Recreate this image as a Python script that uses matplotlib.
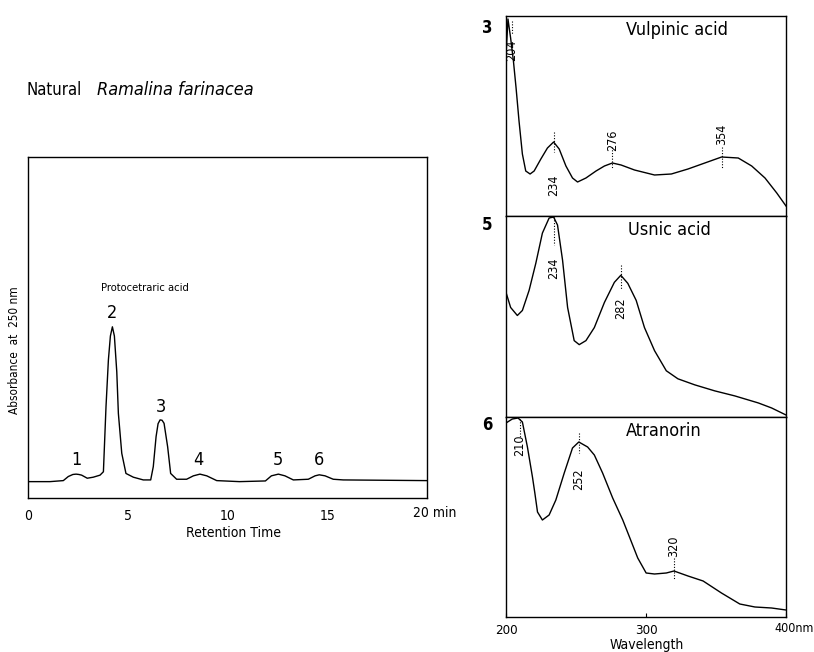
import matplotlib.pyplot as plt
from matplotlib.transforms import blended_transform_factory

plt.rcParams['font.family'] = ['DejaVu Sans']
plt.rcParams['font.stretch'] = 'condensed'

# --- HPLC chromatogram (retention time in min, absorbance in arbitrary units) ---
chrom_t = [0, 1.1, 1.77, 2.02, 2.25, 2.41, 2.55, 2.69, 2.97, 3.27, 3.61, 3.78,
           3.91, 4.03, 4.13, 4.23, 4.33, 4.45, 4.53, 4.7, 4.91, 5.28, 5.78,
           6.15, 6.28, 6.42, 6.52, 6.62, 6.72, 6.82, 7.0, 7.15, 7.45, 7.95,
           8.29, 8.62, 8.96, 9.46, 10.6, 11.9, 12.2, 12.55, 12.88, 13.3,
           14.05, 14.39, 14.6, 14.89, 15.3, 15.8, 20]
chrom_y = [4.8, 4.8, 5.1, 6.3, 6.9, 7.0, 6.9, 6.7, 5.8, 6.1, 6.7, 7.7,
           26.8, 40.5, 47.5, 50.2, 47.5, 37.0, 24.8, 13.1, 7.2, 6.1, 5.3,
           5.3, 9.2, 18.0, 21.8, 22.9, 22.8, 21.9, 15.0, 7.2, 5.5, 5.5,
           6.5, 7.0, 6.5, 5.1, 4.8, 5.0, 6.5, 7.0, 6.5, 5.3,
           5.5, 6.5, 6.8, 6.5, 5.5, 5.3, 5.1]
peak_num = ['1', '2', '3', '4', '5', '6']
peak_t = [2.4, 4.2, 6.67, 8.55, 12.5, 14.6]
peak_lab_y = [11.1, 54.3, 26.7, 11.1, 11.1, 11.1]
chrom_ticks = [0, 5, 10, 15]

# --- UV spectra (wavelength in nm, absorbance in arbitrary units) ---
vulp_wl = [200, 201.4, 203.3, 205.3, 207.2, 209.3, 211.7, 214.1, 217.2, 220.1,
           224.9, 229.6, 234, 238, 242.8, 247.5, 251.1, 257.1, 264.3, 270.3,
           276, 282.2, 291.8, 306.1, 318.1, 330, 342, 354, 365.9, 375.5,
           385, 393.4, 400]
vulp_abs = [160, 197, 178, 155, 128, 95, 62, 45, 42, 45,
            57, 68, 74, 67, 50, 38, 34, 38, 45, 50,
            53, 51, 46, 41, 42, 47, 53, 59, 58, 50,
            38, 23, 10]
vulp_peaks = [204, 234, 276, 354]
vulp_lab_y = [166, 31, 76, 82]
vulp_dot = [(195, 182), (84, 64), (69, 48), (69, 47)]

usnic_wl = [200, 203.3, 208.1, 211.7, 216.5, 221.3, 226, 230.8, 234, 236.8,
            240.4, 244, 248.7, 252.3, 257.1, 263.1, 270.3, 277.4, 282, 287,
            293, 298.9, 306.1, 314.5, 322.8, 334.8, 349.1, 363.4, 380.2,
            389.7, 400]
usnic_abs = [124, 109, 101, 106, 126, 153, 183, 198, 199, 191,
             156, 109, 76, 72, 76, 89, 114, 134, 141, 133,
             116, 89, 66, 46, 38, 32, 26, 21, 14,
             9, 2]
usnic_peaks = [234, 282]
usnic_lab_y = [148, 108]
usnic_dot = [(199, 171), (151, 126)]

atra_wl = [200, 204.5, 208.6, 211.7, 215.3, 218.9, 220.6, 222.5, 226, 230.8,
           235.6, 241.6, 247.5, 252, 258.3, 263.1, 269, 276.2, 283.4, 288.2,
           294.1, 300.1, 306.1, 314.5, 320, 330, 340.8, 353.9, 367, 377.8,
           389.7, 400]
atra_abs = [194, 198, 199, 195, 170, 140, 124, 105, 97, 102,
            117, 144, 169, 175, 170, 162, 144, 119, 97, 80,
            59, 44, 43, 44, 46, 41, 36, 24, 13, 10,
            9, 7]
atra_peaks = [210, 252, 320]
atra_lab_y = [172, 138, 71]
atra_dot = [(198, 180), (184, 164), (59, 37)]

fig = plt.figure(figsize=(8.14, 6.52), dpi=100)
W, H = 814, 652

def box(x0, y0, x1, y1):
    return [x0 / W, 1 - y1 / H, (x1 - x0) / W, (y1 - y0) / H]

# chromatogram
ax = fig.add_axes(box(28, 157, 427, 498))
ax.plot(chrom_t, chrom_y, color='black', lw=1.0)
ax.set_xlim(0, 20)
ax.set_ylim(0, 100)
ax.set_yticks([])
ax.set_xticks(chrom_ticks)
ax.set_xticklabels([str(v) for v in chrom_ticks])
ax.tick_params(axis='x', length=0, pad=8, labelsize=10)
for s in ax.spines.values():
    s.set_linewidth(1.0)
tr = blended_transform_factory(ax.transData, ax.transAxes)
ax.text(19.3, -0.044, '20 min', transform=tr, ha='left', va='center', fontsize=10)
for n, t, y in zip(peak_num, peak_t, peak_lab_y):
    ax.text(t, y, n, ha='center', va='center', fontsize=13)
ax.text(5.86, 61.6, 'Protocetraric acid', ha='center', va='center', fontsize=8)

fig.text(233 / W, 1 - 533 / H, 'Retention Time', ha='center', va='center', fontsize=10)
fig.text(15 / W, 1 - 350 / H, 'Absorbance  at  250 nm', ha='center', va='center',
         rotation=90, fontsize=8.5)
fig.text(27 / W, 1 - 90 / H, 'Natural', ha='left', va='center', fontsize=12)
fig.text(97 / W, 1 - 90 / H, 'Ramalina farinacea', ha='left', va='center',
         fontsize=13, style='italic')

# spectra panels
panels = [
    ('3', 'Vulpinic acid', 322, vulp_wl, vulp_abs, vulp_peaks, vulp_lab_y, vulp_dot, (16, 216), 0.94),
    ('5', 'Usnic acid', 317, usnic_wl, usnic_abs, usnic_peaks, usnic_lab_y, usnic_dot, (216, 417), 0.955),
    ('6', 'Atranorin', 313, atra_wl, atra_abs, atra_peaks, atra_lab_y, atra_dot, (417, 617), 0.96),
]
for i, (num, name, name_x, wl, ab, pk, pk_y, dots, (y0, y1), num_y) in enumerate(panels):
    a = fig.add_axes(box(506, y0, 786, y1))
    a.plot(wl, ab, color='black', lw=1.0)
    a.set_xlim(200, 400)
    a.set_ylim(0, 200)
    a.set_yticks([])
    for s in a.spines.values():
        s.set_linewidth(1.0)
    for w, y, (d0, d1) in zip(pk, pk_y, dots):
        a.plot([w, w], [d0, d1], color='black', lw=0.8, ls=(0, (1, 1.5)))
        a.text(w, y, str(w), rotation=90, ha='center', va='center', fontsize=9)
    a.text(name_x, 186, name, ha='center', va='center', fontsize=13)
    a.text(-0.068, num_y, num, transform=a.transAxes, ha='center', va='center',
           fontsize=12, fontweight='bold')
    if i < 2:
        a.set_xticks([])
    else:
        a.set_xticks([200, 300, 400])
        a.set_xticklabels(['200', '300', ''])
        a.tick_params(axis='x', direction='in', length=3, pad=5, labelsize=9.5)
        trb = blended_transform_factory(a.transData, a.transAxes)
        a.text(392, -0.06, '400nm', transform=trb, ha='left', va='center', fontsize=9)

fig.text(647 / W, 1 - 645 / H, 'Wavelength', ha='center', va='center', fontsize=10)

fig.savefig('out.png', dpi=100)
